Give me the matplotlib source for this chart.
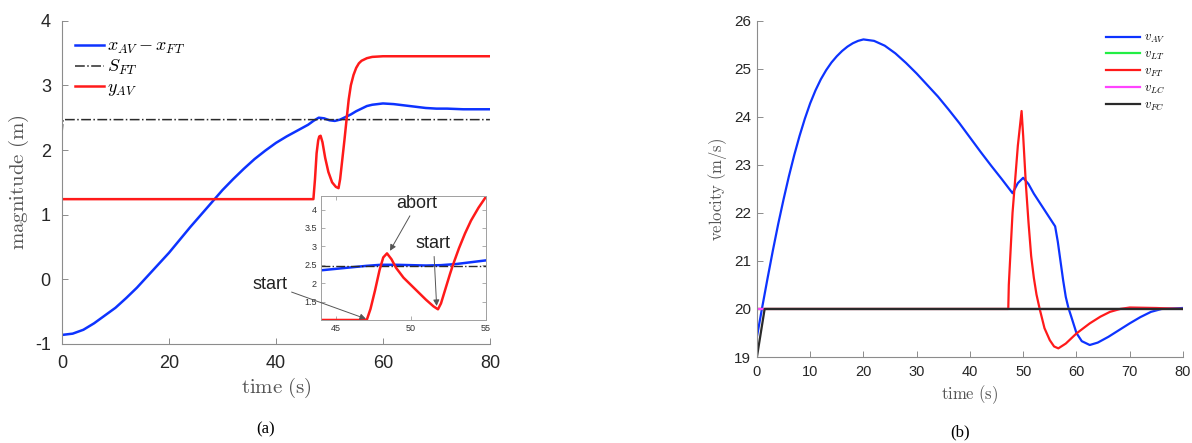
"""
Two panels: lateral/longitudinal gap during the manoeuvre (a) and velocities (b)
"""
import matplotlib
matplotlib.use("Agg")
import matplotlib.pyplot as plt

BLUE = "#0d33ff"
RED = "#ff1a1a"
GREEN = "#22ee44"
MAGENTA = "#ff44ff"
BLACK = "#2a2a2a"
SPINE = "#8c8c8c"
TICK_TXT = "#262626"
LABEL_TXT = "#555555"

# ---- panel (a): main axes
t_gap = [0, 2, 4, 6, 8, 10, 12, 14, 16, 18, 20, 22, 24, 26, 28, 30, 32, 34, 36, 38,
         40, 42, 44, 46, 47, 48, 49, 50, 51, 52, 53, 54, 55, 56, 57, 58, 60, 62, 64,
         66, 68, 70, 72, 75, 80]
gap = [-0.86, -0.84, -0.78, -0.68, -0.56, -0.44, -0.29, -0.13, 0.05, 0.23, 0.41,
       0.61, 0.81, 1.0, 1.19, 1.38, 1.55, 1.71, 1.86, 1.99, 2.11, 2.21, 2.3, 2.39,
       2.45, 2.5, 2.49, 2.46, 2.45, 2.47, 2.51, 2.55, 2.6, 2.64, 2.68, 2.7, 2.72,
       2.71, 2.69, 2.67, 2.65, 2.64, 2.64, 2.63, 2.63]

t_sft = [0, 0.2, 80]
sft = [2.25, 2.47, 2.47]

t_y = [0, 47.0, 47.3, 47.6, 47.9, 48.1, 48.35, 48.7, 49.2, 49.8, 50.5, 51.2, 51.7,
       52.0, 52.4, 52.8, 53.2, 53.6, 54.0, 54.5, 55.0, 55.5, 56.0, 57.0, 58.0, 60.0,
       80]
y_av = [1.24, 1.24, 1.55, 1.95, 2.15, 2.21, 2.22, 2.12, 1.88, 1.66, 1.5, 1.43, 1.41,
        1.55, 1.85, 2.15, 2.47, 2.78, 3.0, 3.16, 3.27, 3.34, 3.38, 3.42, 3.44, 3.45,
        3.45]

# ---- panel (a): zoomed inset
ti_red = [44, 47.05, 47.3, 47.6, 47.9, 48.15, 48.4, 48.7, 49.0, 49.5, 50.0, 50.5,
          51.0, 51.5, 51.8, 52.0, 52.3, 52.6, 52.8, 53.2, 53.6, 54.0, 54.5, 55.0]
inset_red = [1.0, 1.0, 1.3, 1.8, 2.35, 2.7, 2.81, 2.65, 2.42, 2.15, 1.95, 1.75,
             1.55, 1.37, 1.29, 1.45, 1.85, 2.25, 2.5, 2.95, 3.35, 3.7, 4.05, 4.35]
ti_blue = [44, 45, 46, 47, 48, 49, 50, 51, 52, 53, 54, 55]
inset_blue = [2.35, 2.39, 2.43, 2.47, 2.5, 2.5, 2.49, 2.48, 2.49, 2.52, 2.57, 2.62]
inset_sft = 2.47

# ---- panel (b): velocities
t_vav = [0, 1, 2, 3, 4, 5, 6, 7, 8, 9, 10, 11, 12, 13, 14, 15, 16, 17, 18, 19, 20,
         22, 24, 26, 28, 30, 32, 34, 36, 38, 40, 42, 44, 46, 48, 49, 50, 51, 52, 54,
         56, 56.5, 57, 57.5, 58, 58.5, 59, 60, 61, 62.5, 64, 66, 68, 70, 72, 74, 76,
         80]
v_av = [19.42, 20.04, 20.64, 21.22, 21.77, 22.28, 22.76, 23.2, 23.6, 23.96, 24.28,
        24.55, 24.78, 24.97, 25.13, 25.26, 25.37, 25.46, 25.53, 25.58, 25.61, 25.58,
        25.48, 25.32, 25.12, 24.9, 24.66, 24.42, 24.15, 23.87, 23.57, 23.27, 22.98,
        22.7, 22.41, 22.62, 22.73, 22.6, 22.4, 22.06, 21.72, 21.4, 21.0, 20.6, 20.25,
        20.02, 19.85, 19.5, 19.33, 19.25, 19.3, 19.42, 19.56, 19.7, 19.83, 19.94,
        20.0, 20.02]

t_vft = [0, 47.2, 47.3, 48.0, 49.0, 49.7, 50.0, 50.5, 51.0, 51.5, 52.0, 52.5, 53.1,
         54.0, 55.0, 55.8, 56.6, 58.0, 60.0, 62.5, 64.5, 66.3, 68.2, 70.0, 75.0, 80.0]
v_ft = [20.0, 20.0, 20.5, 22.0, 23.4, 24.12, 23.6, 22.6, 21.8, 21.1, 20.65, 20.3,
        20.0, 19.6, 19.35, 19.22, 19.18, 19.28, 19.49, 19.7, 19.84, 19.94, 20.0,
        20.03, 20.02, 20.0]

t_const = [0, 80]
v_lt = [20.0, 20.0]
v_lc = [20.0, 20.0]
t_vfc = [0, 1.45, 80]
v_fc = [19.0, 20.0, 20.0]

plt.rcParams["mathtext.fontset"] = "cm"
plt.rcParams["axes.unicode_minus"] = False
plt.rcParams["font.family"] = ["Liberation Sans", "DejaVu Sans"]


def matlab_axes(ax, size, pad):
    for side in ("top", "right"):
        ax.spines[side].set_visible(False)
    for side in ("left", "bottom"):
        ax.spines[side].set_color(SPINE)
        ax.spines[side].set_linewidth(0.8)
    ax.tick_params(direction="in", length=4, width=0.7, color=SPINE,
                   labelcolor=TICK_TXT, labelsize=size, pad=pad)


fig = plt.figure(figsize=(11.92, 4.43), dpi=100)

# ---------------- (a)
ax1 = fig.add_axes([0.052, 0.2235, 0.359, 0.7298])
ax1.plot(t_gap, gap, color=BLUE, lw=1.8, label=r"$x_{AV}-x_{FT}$")
ax1.plot(t_sft, sft, color=BLACK, lw=1.1, ls="-.", label=r"$S_{FT}$")
ax1.plot(t_y, y_av, color=RED, lw=1.8, label=r"$y_{AV}$")
ax1.set_xlim(0, 80)
ax1.set_ylim(-1, 4)
ax1.set_xticks([0, 20, 40, 60, 80])
ax1.set_yticks([-1, 0, 1, 2, 3, 4])
matlab_axes(ax1, 13, 8)
ax1.set_xlabel(r"$\mathrm{time\ (s)}$", fontsize=15, color=LABEL_TXT)
ax1.set_ylabel(r"$\mathrm{magnitude\ (m)}$", fontsize=15, color=LABEL_TXT)
ax1.xaxis.set_label_coords(0.5, -0.10)
ax1.yaxis.set_label_coords(-0.072, 0.5)
ax1.legend(loc="upper left", bbox_to_anchor=(0.0, 0.985), frameon=False,
           fontsize=13, handlelength=1.6, handletextpad=0.2, labelspacing=0.1,
           borderaxespad=0.3)

# inset
axi = fig.add_axes([0.2693, 0.2777, 0.1384, 0.2799])
axi.plot(ti_blue, inset_blue, color=BLUE, lw=1.8)
axi.axhline(inset_sft, color=BLACK, lw=1.0, ls="-.")
axi.plot(ti_red, inset_red, color=RED, lw=1.8)
axi.set_xlim(44, 55)
axi.set_ylim(1.0, 4.37)
axi.set_xticks([45, 50, 55])
axi.set_yticks([1.5, 2, 2.5, 3, 3.5, 4])
axi.set_yticklabels(["1.5", "2", "2.5", "3", "3.5", "4"])
for side in axi.spines.values():
    side.set_color("#a0a0a0")
    side.set_linewidth(0.7)
axi.tick_params(direction="in", length=3, width=0.6, color="#a0a0a0",
                labelcolor="#333333", labelsize=6.5, pad=3,
                top=True, right=True)

arrow = dict(arrowstyle="-|>", color="#555555", lw=0.7, mutation_scale=9,
             shrinkA=1, shrinkB=0)
axi.annotate("abort", xy=(48.6, 2.88), xytext=(50.4, 4.17), fontsize=13,
             ha="center", va="center", color="#222222", arrowprops=arrow,
             annotation_clip=False)
axi.annotate("start", xy=(51.71, 1.38), xytext=(51.5, 3.07), fontsize=13,
             ha="center", va="center", color="#222222", arrowprops=arrow,
             annotation_clip=False)
axi.annotate("start", xy=(47.0, 1.03), xytext=(40.6, 1.97), fontsize=13,
             ha="center", va="center", color="#222222", arrowprops=arrow,
             annotation_clip=False)

# ---------------- (b)
ax2 = fig.add_axes([0.635, 0.1941, 0.3574, 0.7592])
ax2.plot(t_vav, v_av, color=BLUE, lw=1.6, label=r"$v_{AV}$")
ax2.plot(t_const, v_lt, color=GREEN, lw=1.6, label=r"$v_{LT}$")
ax2.plot(t_vft, v_ft, color=RED, lw=1.6, label=r"$v_{FT}$")
ax2.plot(t_const, v_lc, color=MAGENTA, lw=1.6, label=r"$v_{LC}$")
ax2.plot(t_vfc, v_fc, color=BLACK, lw=1.6, label=r"$v_{FC}$")
ax2.set_xlim(0, 80)
ax2.set_ylim(19, 26)
ax2.set_xticks(range(0, 81, 10))
ax2.set_yticks(range(19, 27))
matlab_axes(ax2, 11, 4)
ax2.tick_params(axis="x", labelsize=10.5, pad=6)
ax2.set_xlabel(r"$\mathrm{time\ (s)}$", fontsize=12, color=LABEL_TXT)
ax2.set_ylabel(r"$\mathrm{velocity\ (m/s)}$", fontsize=12, color=LABEL_TXT)
ax2.xaxis.set_label_coords(0.5, -0.077)
ax2.yaxis.set_label_coords(-0.066, 0.5)
ax2.legend(loc="upper right", bbox_to_anchor=(0.985, 1.0), frameon=False,
           fontsize=9, handlelength=2.7, handletextpad=0.3, labelspacing=0.3)

fig.text(0.2232, 0.03, "(a)", fontsize=12, family="Liberation Serif",
         ha="center", va="center")
fig.text(0.8054, 0.025, "(b)", fontsize=12, family="Liberation Serif",
         ha="center", va="center")

fig.savefig("out.png", dpi=100)
